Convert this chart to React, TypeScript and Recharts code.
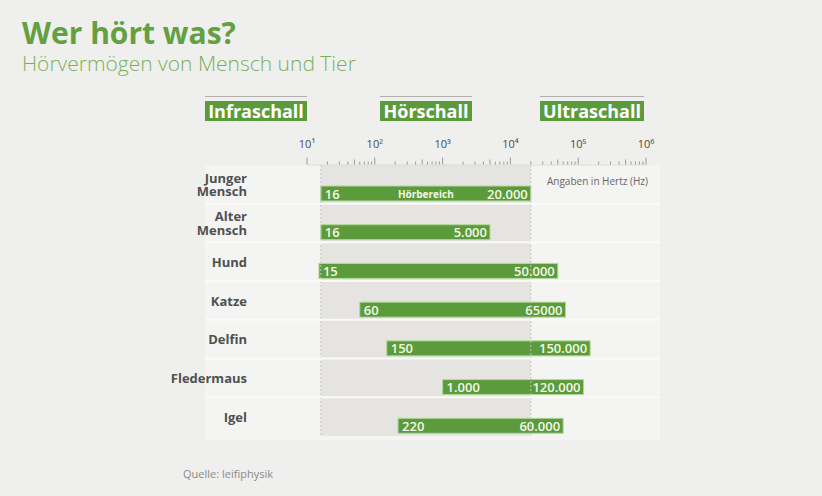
import React from 'react';
import { BarChart, Bar, XAxis, YAxis, ReferenceArea, ReferenceLine } from 'recharts';

const categories = ['Junger Mensch', 'Alter Mensch', 'Hund', 'Katze', 'Delfin', 'Fledermaus', 'Igel'];
const lowHz = [16, 16, 15, 60, 150, 1000, 220];
const highHz = [20000, 5000, 50000, 65000, 150000, 120000, 60000];
const lowLabels = ['16', '16', '15', '60', '150', '1.000', '220'];
const highLabels = ['20.000', '5.000', '50.000', '65000', '150.000', '120.000', '60.000'];
const middleLabels = ['Hörbereich', '', '', '', '', '', ''];
const hearingRange = [16, 20000];
const decadeTicks = [10, 100, 1000, 10000, 100000, 1000000];
const decadeLabels = ['10¹', '10²', '10³', '10⁴', '10⁵', '10⁶'];
const groupLabels = ['Infraschall', 'Hörschall', 'Ultraschall'];

const data = categories.map((name, i) => ({
  name,
  range: [lowHz[i], highHz[i]],
  lowLabel: lowLabels[i],
  highLabel: highLabels[i],
  midLabel: middleLabels[i],
}));

const allTicks: number[] = [];
decadeTicks.forEach((d, i) => {
  allTicks.push(d);
  if (i < decadeTicks.length - 1) {
    for (let k = 2; k <= 9; k++) allTicks.push(d * k);
  }
});

const GREEN = '#5c9b3c';
const FONT = "'Open Sans', 'DejaVu Sans', sans-serif";

const BAR_SHIFT = 9;

const RangeBar = (props: any) => {
  const { x, y, width, height, payload } = props;
  const yy = y + BAR_SHIFT;
  const cy = yy + height / 2;
  return (
    <g>
      <rect x={x} y={yy} width={width} height={height} fill={GREEN} stroke="#b4d99a" strokeWidth={1} />
      <text x={x + 4} y={cy} dominantBaseline="central" fill="#f1f8e6" fontSize={13} fontWeight={600} fontFamily={FONT}>
        {payload.lowLabel}
      </text>
      <text x={x + width - 3} y={cy} dominantBaseline="central" textAnchor="end" fill="#f1f8e6" fontSize={13} fontWeight={600} fontFamily={FONT}>
        {payload.highLabel}
      </text>
      {payload.midLabel ? (
        <text x={x + width / 2} y={cy} dominantBaseline="central" textAnchor="middle" fill="#f1f8e6" fontSize={10} fontWeight={700} fontFamily={FONT}>
          {payload.midLabel}
        </text>
      ) : null}
    </g>
  );
};

const CategoryTick = (props: any) => {
  const { y, payload, index } = props;
  const words = String(payload.value).split(' ');
  const lh = 13.5;
  const start = y - ((words.length - 1) * lh) / 2;
  return (
    <g>
      {index < categories.length - 1 ? (
        <line x1={205} x2={660} y1={y + 19.3} y2={y + 19.3} stroke="#fafaf9" strokeWidth={2} />
      ) : null}
      {words.map((w, i) => (
        <text key={i} x={247} y={start + i * lh} textAnchor="end" dominantBaseline="central" fill="#505050" fontSize={13} fontWeight={700} fontFamily={FONT}>
          {w}
        </text>
      ))}
    </g>
  );
};

const RulerTick = (props: any) => {
  const { x, payload } = props;
  const v = payload.value;
  const di = decadeTicks.findIndex((d) => Math.abs(d - v) < 1e-6);
  const ratio = v / Math.pow(10, Math.floor(Math.log10(v) + 1e-9));
  const len = di >= 0 ? 7 : Math.abs(ratio - 5) < 1e-6 ? 5 : 3;
  const base = 164.5;
  return (
    <g>
      <line x1={x} x2={x} y1={base} y2={base - len} stroke="#9a9a9a" strokeWidth={1} />
      {di >= 0 ? (
        <text x={x} y={143} textAnchor="middle" dominantBaseline="central" fill="#4a4a4a" stroke="none" fontSize={11} fontFamily={FONT}>
          {decadeLabels[di]}
        </text>
      ) : null}
    </g>
  );
};

const groupBoxes = [
  { left: 205, width: 102 },
  { left: 380, width: 92 },
  { left: 540, width: 104 },
];

export default function App() {
  return (
    <div style={{ position: 'absolute', left: 0, top: 0, width: 822, height: 496, background: '#efefed', fontFamily: FONT, overflow: 'hidden' }}>
      <div style={{ position: 'absolute', left: 22, top: 16, fontSize: 30, fontWeight: 700, color: '#62a041', lineHeight: '34px', whiteSpace: 'nowrap' }}>
        Wer hört was?
      </div>
      <div style={{ position: 'absolute', left: 22, top: 50, fontSize: 21, fontWeight: 300, color: '#7caf5c', lineHeight: '26px', whiteSpace: 'nowrap' }}>
        Hörvermögen von Mensch und Tier
      </div>
      {groupLabels.map((g, i) => (
        <div key={g}>
          <div style={{ position: 'absolute', left: groupBoxes[i].left, top: 96, width: groupBoxes[i].width, height: 1, background: '#b0b0ae' }} />
          <div style={{ position: 'absolute', left: groupBoxes[i].left, top: 101, width: groupBoxes[i].width, height: 20, background: GREEN, color: '#fff', fontSize: 18, fontWeight: 700, lineHeight: '20px', textAlign: 'center', whiteSpace: 'nowrap' }}>
            {g}
          </div>
        </div>
      ))}
      <div style={{ position: 'absolute', left: 205, top: 165, width: 455, height: 275, background: '#f4f4f2' }} />
      <div style={{ position: 'absolute', left: 0, top: 0 }}>
        <BarChart
          width={822}
          height={496}
          data={data}
          layout="vertical"
          margin={{ top: 125, right: 176, bottom: 60, left: 0 }}
          barSize={15}
        >
          <ReferenceArea x1={hearingRange[0]} x2={hearingRange[1]} fill="#e5e4e1" fillOpacity={1} stroke="none" ifOverflow="visible" />
          <ReferenceLine x={hearingRange[0]} stroke="#c4c4c2" strokeDasharray="2 2" />
          <ReferenceLine x={hearingRange[1]} stroke="#c4c4c2" strokeDasharray="2 2" />
          <XAxis
            type="number"
            scale="log"
            domain={[10, 1000000]}
            ticks={allTicks}
            orientation="top"
            height={40}
            axisLine={{ stroke: '#dcdcda' }}
            tickLine={false}
            tick={<RulerTick />}
            interval={0}
            allowDataOverflow
          />
          <YAxis
            type="category"
            dataKey="name"
            width={307}
            axisLine={false}
            tickLine={false}
            tick={<CategoryTick />}
            interval={0}
          />
          <Bar dataKey="range" isAnimationActive={false} shape={<RangeBar />} />
        </BarChart>
      </div>
      <div style={{ position: 'absolute', right: 174, top: 174, fontSize: 10, color: '#666', whiteSpace: 'nowrap' }}>
        Angaben in Hertz (Hz)
      </div>
      <div style={{ position: 'absolute', left: 183, top: 466, fontSize: 11, color: '#8a8a8a', whiteSpace: 'nowrap' }}>
        Quelle: leifiphysik
      </div>
    </div>
  );
}
